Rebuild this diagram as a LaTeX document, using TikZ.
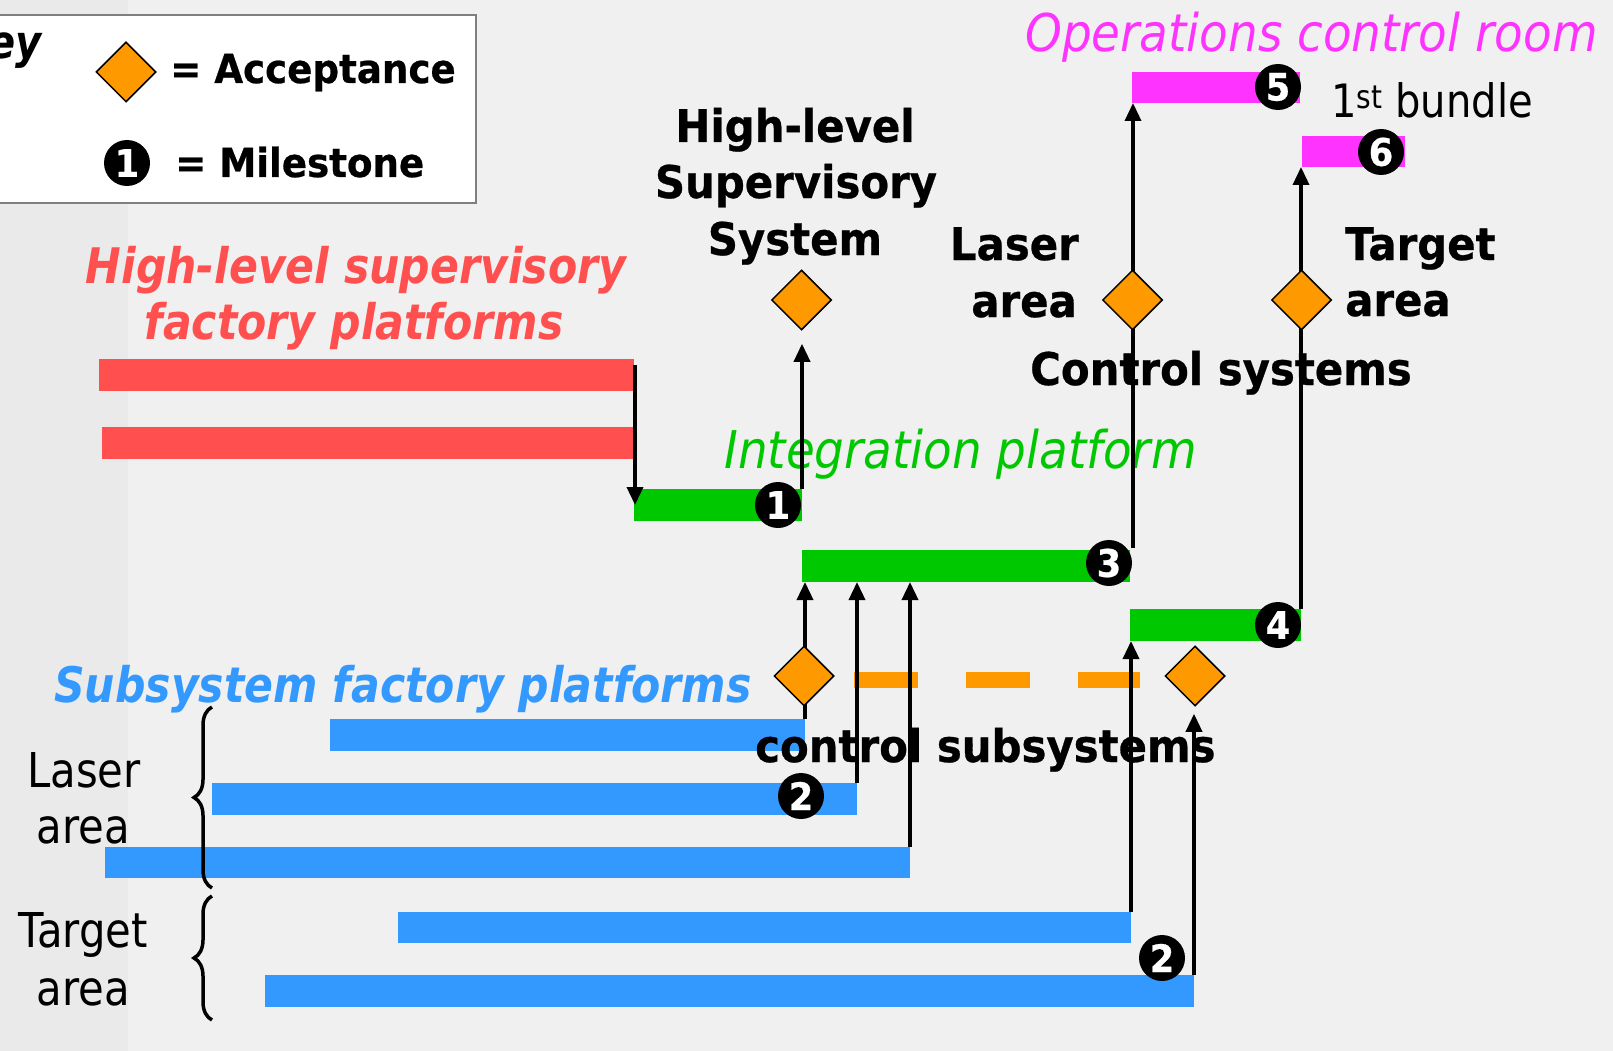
\documentclass[tikz,border=0pt]{standalone}
\usepackage{fontspec}
\setmainfont{DejaVu Sans}
\newfontfamily\fbold{DejaVu Sans}[FakeStretch=0.93, FakeBold=0.6]
\newfontfamily\freg{DejaVu Sans}[FakeStretch=0.87]
\newfontfamily\fital{DejaVu Sans}[FakeStretch=0.90]
\newfontfamily\fbit{DejaVu Sans}[FakeStretch=0.87]
\usetikzlibrary{arrows.meta,shapes.geometric,decorations.pathreplacing}
\newcommand\fsz[1]{\fontsize{#1}{#1}\selectfont}

\definecolor{cBg}{HTML}{F0F0F0}
\definecolor{cStrip}{HTML}{EAEAEA}
\definecolor{cGrey}{HTML}{7F7F7F}
\definecolor{cRed}{HTML}{FF4F4F}
\definecolor{cGreen}{HTML}{00C800}
\definecolor{cBlue}{HTML}{3399FF}
\definecolor{cMag}{HTML}{FF33FF}
\definecolor{cOrange}{HTML}{FF9900}

\pgfdeclarelayer{top}
\pgfsetlayers{main,top}

\tikzset{
  bar/.style={rectangle, draw=none, inner sep=0pt, outer sep=0pt, anchor=north west},
  ms/.style={circle, fill=black, inner sep=0pt, minimum size=46pt, text=white,
             font=\fbold\bfseries\fsz{38}},
  acc/.style={diamond, aspect=1, fill=cOrange, draw=black, line width=1.5pt,
              inner sep=0pt, minimum width=60pt, minimum height=60pt},
  arr/.style={line width=3.5pt, -{Triangle[width=16pt,length=18pt]}},
  tb/.style={font=\fbold\bfseries\fsz{45}, inner sep=0pt},
  tr/.style={font=\freg\fsz{48}, inner sep=0pt},
  ti/.style={font=\fital\itshape\fsz{52}, inner sep=0pt},
  tbi/.style={font=\fbit\bfseries\itshape\fsz{49}, inner sep=0pt},
  brc/.style={line width=3.5pt, decorate, decoration={brace, amplitude=18pt}},
}

\begin{document}
\begin{tikzpicture}[x=1pt, y=-1pt]
\useasboundingbox (0,0) rectangle (1613,1051);
% page background
\fill[cBg] (0,0) rectangle (1613,1051);
\fill[cStrip] (0,0) rectangle (128,1051);

% legend
\draw[fill=white, draw=cGrey, line width=1.5pt] (-5,15) rectangle (476,203);
\node[font=\fbit\bfseries\itshape\fsz{46}, inner sep=0pt, anchor=base east] (keyT) at (42,59) {Key};
\node[tb, font=\fbold\bfseries\fsz{40}, anchor=base west] (kacc) at (170,83) {= Acceptance};
\node[tb, font=\fbold\bfseries\fsz{40}, anchor=base west] (kms) at (175,177) {= Milestone};

% bars
\node[bar, fill=cRed, minimum width=535pt, minimum height=32pt] (r1) at (99,359) {};
\node[bar, fill=cRed, minimum width=533pt, minimum height=32pt] (r2) at (102,427) {};
\node[bar, fill=cGreen, minimum width=168pt, minimum height=32pt] (g1) at (634,489) {};
\node[bar, fill=cGreen, minimum width=328pt, minimum height=32pt] (g3) at (802,550) {};
\node[bar, fill=cGreen, minimum width=171pt, minimum height=32pt] (g4) at (1130,609) {};
\node[bar, fill=cMag, minimum width=168pt, minimum height=31pt] (p5) at (1132,72) {};
\node[bar, fill=cMag, minimum width=103pt, minimum height=31pt] (p6) at (1302,136) {};
\node[bar, fill=cBlue, minimum width=475pt, minimum height=32pt] (b1) at (330,719) {};
\node[bar, fill=cBlue, minimum width=645pt, minimum height=32pt] (b2) at (212,783) {};
\node[bar, fill=cBlue, minimum width=805pt, minimum height=31pt] (b3) at (105,847) {};
\node[bar, fill=cBlue, minimum width=733pt, minimum height=31pt] (b4) at (398,912) {};
\node[bar, fill=cBlue, minimum width=929pt, minimum height=32pt] (b5) at (265,975) {};

% acceptance diamonds (kept above the connectors)
\begin{pgfonlayer}{top}
\node[acc] (kd) at (126,72) {};
\node[acc] (dHL) at (801.5,300) {};
\node[acc] (dLA) at (1132.5,300) {};
\node[acc] (dTA) at (1301.5,300) {};
\node[acc] (dL) at (804,676) {};
\node[acc] (dR) at (1195,676) {};
\end{pgfonlayer}

% dashed link between the subsystem acceptances
\coordinate (dashA) at ([xshift=19pt,yshift=-4pt]dL.east);
\draw[cOrange, line width=16pt, dash pattern=on 64pt off 48pt]
  (dashA) -- ([xshift=-24pt]dR.west |- dashA);

% texts
\node[ti, text=cMag, anchor=base west] (ocr) at (1025,52) {Operations control room};
\node[tr, font=\freg\fsz{46}, anchor=base west] (bund) at (1331,118) {1\textsuperscript{st} bundle};
\node[tb, anchor=base] (hl1) at (795,142) {High-level};
\node[tb, anchor=base] (hl2) at (796,198) {Supervisory};
\node[tb, anchor=base] (hl3) at (795,255) {System};
\node[tb, anchor=base east] (la1) at (1079,260) {Laser};
\node[tb, anchor=base east] (la2) at (1077,317) {area};
\node[tb, anchor=base west] (ta1) at (1345,260) {Target};
\node[tb, anchor=base west] (ta2) at (1345,316) {area};
\node[tb, anchor=base west] (cs) at (1030,385) {Control systems};
\node[ti, text=cGreen, anchor=base west] (ip) at (724,468) {Integration platform};
\node[tbi, text=cRed, anchor=base] (hs1) at (356,283) {High-level supervisory};
\node[tbi, text=cRed, anchor=base] (hs2) at (354,339) {factory platforms};
\node[tbi, text=cBlue, anchor=base west] (sf) at (54,702) {Subsystem factory platforms};
\node[tb, anchor=base west] (css) at (755,762) {control subsystems};
\node[tr, anchor=base] (ll1) at (84,787) {Laser};
\node[tr, anchor=base] (ll2) at (83,843) {area};
\node[tr, anchor=base] (tl1) at (83,947) {Target};
\node[tr, anchor=base] (tl2) at (83,1005) {area};

% braces grouping the subsystem bars
\draw[brc] (212,888) -- (212,707);
\draw[brc] (212,1020) -- (212,896);

% connectors
\coordinate (dHLtip) at ([yshift=-13pt]dHL.south);
\coordinate (dRtip) at ([yshift=-7pt]dR.south);
\draw[arr] ([xshift=1pt,yshift=-6pt]r1.north east) -- ([xshift=1pt]r1.north east |- g1.west);
\draw[arr] (g1.north east) -- (g1.north east |- dHLtip);
\draw[arr] ([xshift=3pt,yshift=2pt]g3.north east) -- ([xshift=3pt]g3.north east |- p5.south);
\draw[arr] (g4.north east) -- (g4.north east |- p6.south);
\draw[arr] (b1.north east) -- (b1.north east |- g3.south);
\draw[arr] (b2.north east) -- (b2.north east |- g3.south);
\draw[arr] (b3.north east) -- (b3.north east |- g3.south);
\draw[arr] (b4.north east) -- (b4.north east |- g4.south);
\draw[arr] (b5.north east) -- (b5.north east |- dRtip);

% milestones
\node[ms] (k1) at (127,163) {1};
\node[ms] (m1) at (778,505) {1};
\node[ms] (m2a) at (801,796) {2};
\node[ms] (m2b) at (1162,958) {2};
\node[ms] (m3) at (1109,563) {3};
\node[ms] (m4) at (1278,625) {4};
\node[ms] (m5) at (1278,87) {5};
\node[ms] (m6) at (1381,152) {6};
\end{tikzpicture}
\end{document}
